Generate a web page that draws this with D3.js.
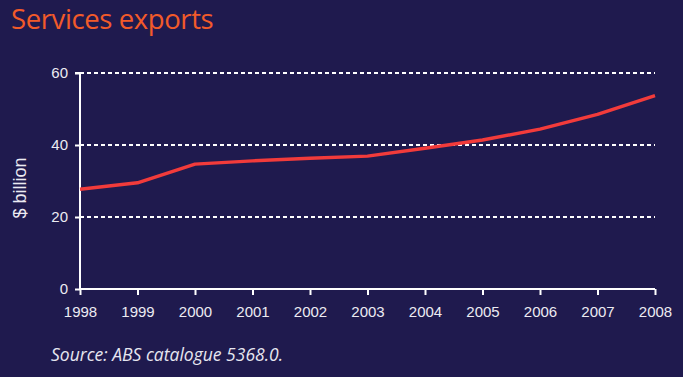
<!DOCTYPE html>
<html><head><meta charset="utf-8">
<script src="https://cdn.jsdelivr.net/npm/d3@7"></script>
<style>
html,body{margin:0;padding:0;background:#1f1a4e;}
svg{display:block;}
</style></head>
<body>
<script>
const years = [1998,1999,2000,2001,2002,2003,2004,2005,2006,2007,2008];
const exportsBn = [27.7,29.5,34.7,35.6,36.3,36.9,39.1,41.4,44.4,48.5,53.7];
const yTicks = [0,20,40,60];
const title = "Services exports";
const yLabel = "$ billion";
const source = "Source: ABS catalogue 5368.0.";

const W = 683, H = 377;
const svg = d3.select("body").append("svg").attr("width", W).attr("height", H);
svg.append("rect").attr("width", W).attr("height", H).attr("fill", "#1f1a4e");

const x = d3.scaleLinear().domain([1998, 2008]).range([80, 655]);
const y = d3.scaleLinear().domain([0, 60]).range([289, 73]);

svg.append("text").attr("x", 11).attr("y", 29).text(title)
  .attr("fill", "#f25a2a").attr("font-family", "'Open Sans', sans-serif")
  .attr("font-weight", 500).attr("font-size", 27.5).attr("letter-spacing", -0.4);

// gridlines
svg.append("g").selectAll("line").data(yTicks.filter(d => d > 0)).join("line")
  .attr("x1", x(1998)).attr("x2", x(2008))
  .attr("y1", d => y(d)).attr("y2", d => y(d))
  .attr("stroke", "#ffffff").attr("stroke-width", 2).attr("stroke-dasharray", "4,3");

// y axis
const ya = svg.append("g").attr("transform", `translate(${x(1998)},0)`)
  .call(d3.axisLeft(y).tickValues(yTicks).tickSize(5).tickPadding(7).tickFormat(d3.format("d")));
// x axis
const xa = svg.append("g").attr("transform", `translate(0,${y(0)})`)
  .call(d3.axisBottom(x).tickValues(years).tickSize(6).tickPadding(11).tickFormat(d3.format("d")));
[ya, xa].forEach(g => {
  g.attr("font-size", null).attr("font-family", null);
  g.select(".domain").attr("stroke", "#ffffff").attr("stroke-width", 2);
  g.selectAll(".tick line").attr("stroke", "#ffffff").attr("stroke-width", 2);
  g.selectAll(".tick text").attr("fill", "#ecebf2")
    .style("font-family", "'Liberation Sans', Arial, sans-serif").style("font-size", "15px");
});
ya.select(".domain").attr("d", `M-5,${y(60)}H0V${y(0)}`);
xa.select(".domain").attr("d", `M${x(1998)},0H${x(2008)}`);

svg.append("text").attr("transform", `translate(26,188) rotate(-90)`)
  .attr("text-anchor", "middle").text(yLabel)
  .attr("fill", "#ecebf2").attr("font-family", "'Liberation Sans', Arial, sans-serif").attr("font-size", 18);

const line = d3.line().x((d, i) => x(years[i])).y(d => y(d));
svg.append("path").datum(exportsBn).attr("d", line)
  .attr("fill", "none").attr("stroke", "#f23b3b").attr("stroke-width", 3.4)
  .attr("stroke-linejoin", "round");

svg.append("text").attr("x", 51).attr("y", 361).text(source)
  .attr("fill", "#e6e6f0").attr("font-family", "'Open Sans', sans-serif")
  .attr("font-style", "italic").attr("font-size", 17.5);
</script>
</body></html>
